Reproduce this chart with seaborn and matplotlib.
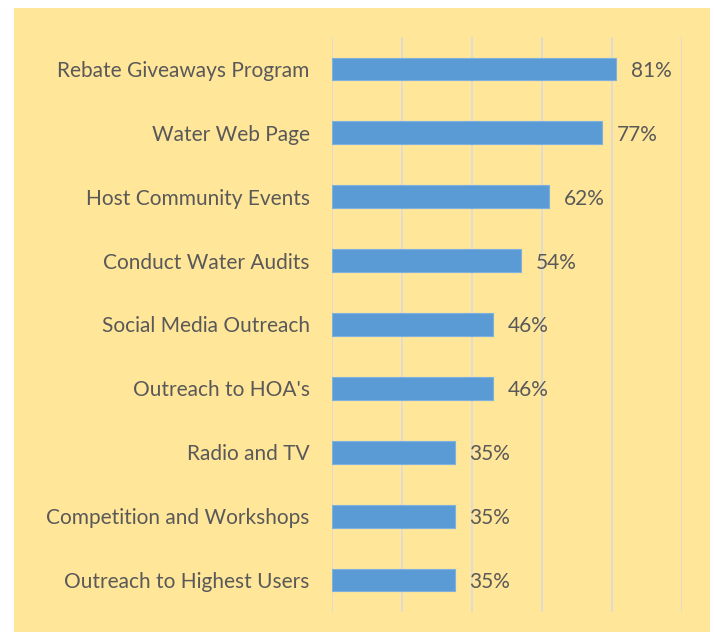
import matplotlib
matplotlib.use('Agg')
import matplotlib.pyplot as plt
import seaborn as sns
import pandas as pd
from matplotlib.patches import Rectangle

sns.set_style('white')
plt.rcParams['font.family'] = ['Lato', 'DejaVu Sans']

categories = [
    'Rebate Giveaways Program',
    'Water Web Page',
    'Host Community Events',
    'Conduct Water Audits',
    'Social Media Outreach',
    "Outreach to HOA's",
    'Radio and TV',
    'Competition and Workshops',
    'Outreach to Highest Users',
]
percents = [81, 77, 62, 54, 46, 46, 35, 35, 35]

BG = '#FFE699'
BAR = '#5B9BD5'
TXT = '#595959'

df = pd.DataFrame({'category': categories, 'pct': percents})

W, H = 715, 632
fig = plt.figure(figsize=(W / 100, H / 100), dpi=100)
fig.patch.set_facecolor('white')
fig.patches.append(Rectangle((14 / W, 0), (710 - 14) / W, (632 - 8) / H,
                             transform=fig.transFigure, facecolor=BG,
                             edgecolor='none', zorder=-10))

ax = fig.add_axes([332 / W, 1 - 612 / H, (682 - 332) / W, (612 - 37) / H])
ax.set_facecolor('none')
ax.set_zorder(1)

sns.barplot(data=df, x='pct', y='category', color=BAR, width=0.355,
            saturation=1, edgecolor='#7FB0DD', linewidth=0.8, ax=ax, zorder=3)

ax.set_xlim(0, 100)
ax.set_xticks(range(0, 101, 20))
ax.xaxis.grid(True, color='#D9D9D9', linewidth=1.2)
ax.yaxis.grid(False)
ax.tick_params(axis='x', labelbottom=False, length=0)
ax.tick_params(axis='y', length=0, pad=16, labelsize=15, labelcolor=TXT)
ax.set_xlabel('')
ax.set_ylabel('')
for s in ax.spines.values():
    s.set_visible(False)

for i, v in enumerate(percents):
    ax.annotate(f'{v}%', (v, i), xytext=(15, -2), textcoords='offset pixels',
                va='center', ha='left', fontsize=15, color=TXT)

fig.savefig('out.png', dpi=100, facecolor='white')
